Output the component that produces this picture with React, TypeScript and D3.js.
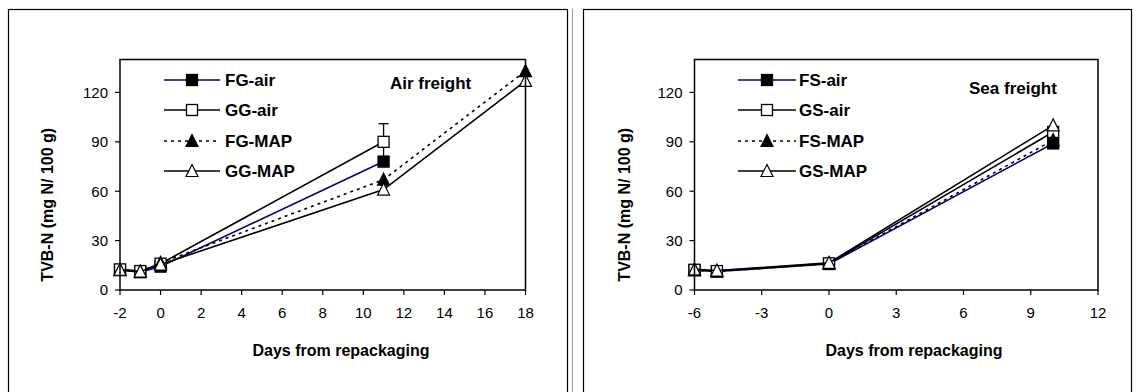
import React from "react";
import * as d3 from "d3";

// ---------- data ----------
const airDays = [-2, -1, 0, 11, 18];
const fgAir = [12.2, 10.8, 14.2, 78];
const ggAir = [12.5, 11.5, 16, 90];
const ggAirErr = [0, 0, 0, 11];
const fgMapAir = [12, 11, 16.5, 67, 133];
const ggMapAir = [12.3, 11.2, 15.5, 61, 127];

const seaDays = [-6, -5, 0, 10];
const fsAir = [12, 11.2, 15.8, 89];
const gsAir = [12.3, 11.5, 16.2, 96];
const fsMap = [12, 11.3, 16, 91];
const gsMap = [12.5, 11.8, 16.5, 100];

const airXTicks = [-2, 0, 2, 4, 6, 8, 10, 12, 14, 16, 18];
const seaXTicks = [-6, -3, 0, 3, 6, 9, 12];
const yTicks = [0, 30, 60, 90, 120];

const airLabels = ["FG-air", "GG-air", "FG-MAP", "GG-MAP"];
const seaLabels = ["FS-air", "GS-air", "FS-MAP", "GS-MAP"];

const FONT = "'Liberation Sans', Arial, sans-serif";
const NAVY = "#000080";

type Marker = "sqFill" | "sqOpen" | "triFill" | "triOpen";
type Series = { x: number[]; y: number[]; err?: number[]; color: string; dash?: string; marker: Marker };

function MarkerShape({ kind, cx, cy }: { kind: Marker; cx: number; cy: number }) {
  const fill = kind === "sqFill" || kind === "triFill" ? "#000" : "#fff";
  if (kind === "sqFill" || kind === "sqOpen") {
    return <rect x={cx - 5.5} y={cy - 5.5} width={11} height={11} fill={fill} stroke="#000" strokeWidth={1.3} />;
  }
  const h = 11;
  const w = 12;
  const p = `M${cx},${cy - h / 2 - 1} L${cx + w / 2},${cy + h / 2} L${cx - w / 2},${cy + h / 2} Z`;
  return <path d={p} fill={fill} stroke="#000" strokeWidth={1.2} />;
}

type PanelProps = {
  series: Series[];
  labels: string[];
  xDomain: [number, number];
  xTicks: number[];
  px0: number;
  px1: number;
  legX0: number;
  legX1: number;
  legText: number;
  note: string;
  noteX: number;
  noteY: number;
  xTitleX: number;
  yTitleX: number;
};

const PY0 = 59.5;
const PY1 = 290;
const legRows = [80, 110, 141, 171];

function Panel(p: PanelProps) {
  const x = d3.scaleLinear().domain(p.xDomain).range([p.px0, p.px1]);
  const y = d3.scaleLinear().domain([0, 140]).range([PY1, PY0]);
  const line = d3
    .line<[number, number]>()
    .x((d) => x(d[0]))
    .y((d) => y(d[1]));
  const legMid = (p.legX0 + p.legX1) / 2;
  return (
    <g>
      {p.series.map((s, i) => {
        const pts = s.y.map((v, j) => [s.x[j], v] as [number, number]);
        return (
          <g key={i}>
            <path d={line(pts) || ""} fill="none" stroke={s.color} strokeWidth={1.6} strokeDasharray={s.dash} />
            {s.err &&
              pts.map((d, j) =>
                s.err![j] > 0 ? (
                  <g key={"e" + j} stroke="#000" strokeWidth={1.3}>
                    <line x1={x(d[0])} x2={x(d[0])} y1={y(d[1] - s.err![j])} y2={y(d[1] + s.err![j])} />
                    <line x1={x(d[0]) - 5} x2={x(d[0]) + 5} y1={y(d[1] + s.err![j])} y2={y(d[1] + s.err![j])} />
                    <line x1={x(d[0]) - 5} x2={x(d[0]) + 5} y1={y(d[1] - s.err![j])} y2={y(d[1] - s.err![j])} />
                  </g>
                ) : null
              )}
            {pts.map((d, j) => (
              <MarkerShape key={j} kind={s.marker} cx={x(d[0])} cy={y(d[1])} />
            ))}
          </g>
        );
      })}
      <rect x={p.px0} y={PY0} width={p.px1 - p.px0} height={PY1 - PY0} fill="none" stroke="#000" strokeWidth={1.5} />
      {yTicks.map((t) => (
        <g key={"y" + t}>
          <line x1={p.px0 - 5} x2={p.px0} y1={y(t)} y2={y(t)} stroke="#000" strokeWidth={1.2} />
          <text x={p.px0 - 12} y={y(t)} dy="0.36em" textAnchor="end" fontSize={15} fontFamily={FONT} fill="#000">
            {t}
          </text>
        </g>
      ))}
      {p.xTicks.map((t) => (
        <g key={"x" + t}>
          <line x1={x(t)} x2={x(t)} y1={PY1} y2={PY1 + 5} stroke="#000" strokeWidth={1.2} />
          <text x={x(t)} y={313} dy="0.36em" textAnchor="middle" fontSize={15} fontFamily={FONT} fill="#000">
            {t}
          </text>
        </g>
      ))}
      <text x={p.xTitleX} y={350} dy="0.36em" textAnchor="middle" fontSize={16} fontWeight="bold" fontFamily={FONT}>
        Days from repackaging
      </text>
      <text
        transform={`translate(${p.yTitleX},${(PY0 + PY1) / 2 + 30}) rotate(-90)`}
        dy="0.36em"
        textAnchor="middle"
        fontSize={16}
        fontWeight="bold"
        fontFamily={FONT}
      >
        TVB-N (mg N/ 100 g)
      </text>
      {p.series.map((s, i) => (
        <g key={"l" + i}>
          <line x1={p.legX0} x2={p.legX1} y1={legRows[i]} y2={legRows[i]} stroke={s.color} strokeWidth={1.6} strokeDasharray={s.dash} />
          <MarkerShape kind={s.marker} cx={legMid} cy={legRows[i]} />
          <text x={p.legText} y={legRows[i]} dy="0.36em" fontSize={17} fontWeight="bold" fontFamily={FONT}>
            {p.labels[i]}
          </text>
        </g>
      ))}
      <text x={p.noteX} y={p.noteY} dy="0.36em" fontSize={17} fontWeight="bold" fontFamily={FONT}>
        {p.note}
      </text>
    </g>
  );
}

export default function App() {
  const airSeries: Series[] = [
    { x: airDays, y: fgAir, color: NAVY, marker: "sqFill" },
    { x: airDays, y: ggAir, err: ggAirErr, color: "#000", marker: "sqOpen" },
    { x: airDays, y: fgMapAir, color: "#000", dash: "3,4", marker: "triFill" },
    { x: airDays, y: ggMapAir, color: "#000", marker: "triOpen" },
  ];
  const seaSeries: Series[] = [
    { x: seaDays, y: fsAir, color: NAVY, marker: "sqFill" },
    { x: seaDays, y: gsAir, color: "#000", marker: "sqOpen" },
    { x: seaDays, y: fsMap, color: "#000", dash: "3,4", marker: "triFill" },
    { x: seaDays, y: gsMap, color: "#000", marker: "triOpen" },
  ];
  return (
    <svg width={1136} height={392} style={{ position: "absolute", left: 0, top: 0, background: "#fff" }}>
      <rect x={0} y={0} width={1136} height={392} fill="#fff" />
      <rect x={8.5} y={9.5} width={559} height={400} fill="none" stroke="#000" strokeWidth={1.2} />
      <line x1={572.5} x2={572.5} y1={9} y2={392} stroke="#999" strokeWidth={1} />
      <rect x={583.5} y={9.5} width={548} height={400} fill="none" stroke="#000" strokeWidth={1.2} />
      <Panel
        series={airSeries}
        labels={airLabels}
        xDomain={[-2, 18]}
        xTicks={airXTicks}
        px0={120}
        px1={525.5}
        legX0={164}
        legX1={220}
        legText={225}
        note="Air freight"
        noteX={390}
        noteY={83}
        xTitleX={341}
        yTitleX={47}
      />
      <Panel
        series={seaSeries}
        labels={seaLabels}
        xDomain={[-6, 12]}
        xTicks={seaXTicks}
        px0={694.5}
        px1={1098}
        legX0={738}
        legX1={796}
        legText={799}
        note="Sea freight"
        noteX={969}
        noteY={88}
        xTitleX={914}
        yTitleX={624}
      />
    </svg>
  );
}
